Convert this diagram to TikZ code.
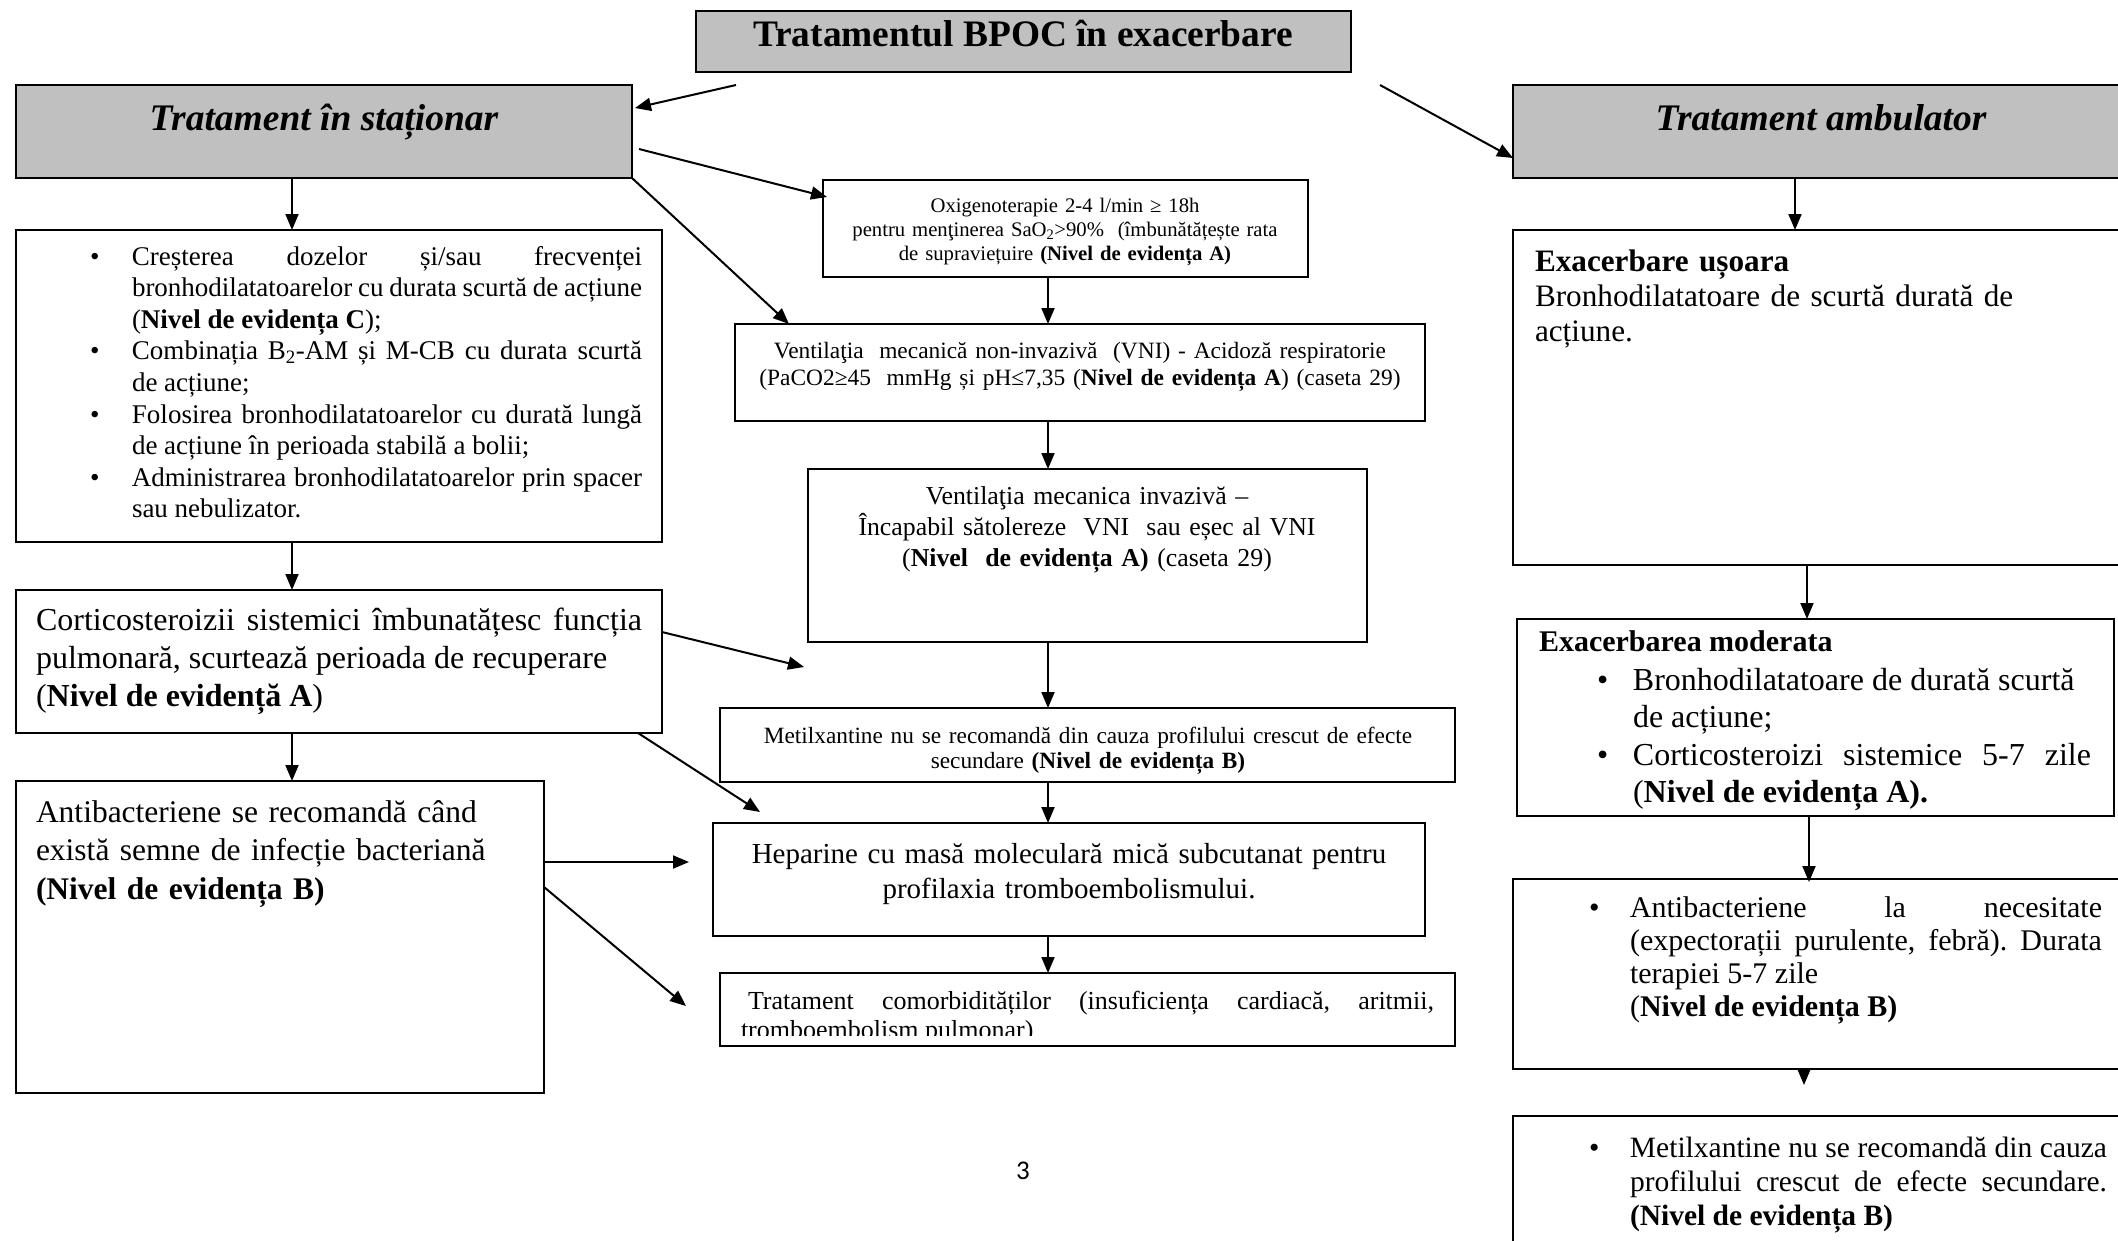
\documentclass[tikz,border=0pt]{standalone}
\usepackage{fontspec}
\setmainfont{Liberation Serif}
\newfontfamily\pagenumfont{Carlito}
\usetikzlibrary{arrows.meta,calc}
\definecolor{boxgray}{RGB}{192,192,192}
\hyphenpenalty=10000
\exhyphenpenalty=10000
% bullet hung to the left of the item text
\newcommand\bul[1][42pt]{\leavevmode\llap{\makebox[#1][l]{•}}\ignorespaces}
\newcommand\fs[2]{\fontsize{#1}{#2}\selectfont}

\begin{document}
\begin{tikzpicture}[x=1pt,y=-1pt,
  box/.style={draw=black, line width=2pt, anchor=north west, inner sep=0pt, outer sep=0pt},
  shaded/.style={box, fill=boxgray},
  txt/.style={inner sep=0pt, outer sep=0pt},
  arr/.style={line width=2pt, -{Triangle[length=16pt,width=13pt]}}]

\useasboundingbox (0,0) rectangle (2118,1240);
\fill[white] (0,0) rectangle (2118,1240);
\clip (0,0) rectangle (2118,1240);

% ---------- boxes ----------
\node[shaded, minimum width=655pt, minimum height=61pt] (title) at (696,11) {};
\node[shaded, minimum width=616pt, minimum height=93pt] (stat) at (16,85) {};
\node[shaded, minimum width=616pt, minimum height=93pt] (amb) at (1513,85) {};
\node[box, minimum width=646pt, minimum height=312pt] (care) at (16,230) {};
\node[box, minimum width=646pt, minimum height=143pt] (cort) at (16,590) {};
\node[box, minimum width=528pt, minimum height=312pt] (abac) at (16,781) {};
\node[box, minimum width=485pt, minimum height=97pt] (oxi) at (823,180) {};
\node[box, minimum width=690pt, minimum height=97pt] (vni) at (735,324) {};
\node[box, minimum width=559pt, minimum height=173pt] (vmi) at (808,469) {};
\node[box, minimum width=735pt, minimum height=74pt] (metil) at (720,708) {};
\node[box, minimum width=712pt, minimum height=113pt] (hep) at (713,823) {};
\node[box, minimum width=735pt, minimum height=73pt] (comorb) at (720,973) {};
\node[box, minimum width=616pt, minimum height=335pt] (usoara) at (1513,230) {};
\node[box, minimum width=597pt, minimum height=197pt] (moder) at (1517,619) {};
\node[box, minimum width=616pt, minimum height=190pt] (abacR) at (1513,879) {};
\node[box, minimum width=616pt, minimum height=200pt] (metilR) at (1513,1116) {};

% ---------- texts ----------
\node[txt, anchor=base, font=\fs{37.4}{40}\bfseries] (titleT) at (1023,46) {Tratamentul BPOC în exacerbare};
\node[txt, anchor=base, font=\fs{37.5}{40}\bfseries\itshape] (statT) at (324,130) {Tratament în staționar};
\node[txt, anchor=base, font=\fs{37.5}{40}\bfseries\itshape] (ambT) at (1821,130) {Tratament ambulator};

\node[txt, anchor=base west, text width=510pt, align=justify, font=\fs{27}{31.6}] (careT) at (132,265) {%
\bul Creșterea~dozelor~și/sau~frecvenței \linebreak bronhodilatatoarelor~cu~durata~scurtă~de~acțiune \linebreak (\textbf{Nivel~de~evidența~C});\par
\bul Combinația~B\textsubscript{2}-AM~și~M-CB~cu~durata~scurtă \linebreak de~acțiune;\par
\bul Folosirea~bronhodilatatoarelor~cu~durată~lungă \linebreak de~acțiune~în~perioada~stabilă~a~bolii;\par
\bul Administrarea~bronhodilatatoarelor~prin~spacer \linebreak sau~nebulizator.};

\node[txt, anchor=base west, text width=606pt, align=justify, font=\fs{32}{38}] (cortT) at (36,630) {%
Corticosteroizii~sistemici~îmbunatățesc~funcția \linebreak pulmonară,~scurtează~perioada~de~recuperare\newline (\textbf{Nivel~de~evidență~A})};

\node[txt, anchor=base west, text width=500pt, align=left, font=\fs{31.5}{38.5}] (abacT) at (36,822) {%
Antibacteriene se recomandă când\\ există semne de infecție bacteriană\\ \textbf{(Nivel de evidența B)}};

\node[txt, anchor=base, text width=480pt, align=center, font=\fs{20.7}{24.3}] (oxiT) at (1065,212) {%
Oxigenoterapie 2-4 l/min ≥ 18h\\ pentru menţinerea SaO\textsubscript{2}>90\%\ \ (îmbunătățește rata\\ de supraviețuire \textbf{(Nivel de evidența A)}};

\node[txt, anchor=base, text width=690pt, align=center, font=\fs{23.4}{27}] (vniT) at (1080,358) {%
Ventilaţia\ \ mecanică non-invazivă\ \ (VNI) - Acidoză respiratorie\\ (PaCO2≥45\ \ mmHg și pH≤7,35 (\textbf{Nivel de evidența A}) (caseta 29)};

\node[txt, anchor=base, text width=550pt, align=center, font=\fs{25.8}{31}] (vmiT) at (1087,504) {%
Ventilaţia mecanica invazivă –\\ Încapabil sătolereze\ \ VNI\ \ sau eșec al VNI\\ (\textbf{Nivel\ \ de evidența A)} (caseta 29)};

\node[txt, anchor=base, text width=730pt, align=center, font=\fs{23.3}{25.5}] (metilT) at (1088,743) {%
Metilxantine nu se recomandă din cauza profilului crescut de efecte\\ secundare \textbf{(Nivel de evidența B)}};

\node[txt, anchor=base, text width=700pt, align=center, font=\fs{29}{35}] (hepT) at (1069,863) {%
Heparine cu masă moleculară mică subcutanat pentru\\ profilaxia tromboembolismului.};

\begin{scope}
  \clip (720,973) rectangle (1455,1035);
  \node[txt, anchor=base west, text width=693pt, align=justify, font=\fs{26}{29}] (comorbT) at (741,1009) {%
  \hspace*{7pt}Tratament~comorbidităților~(insuficiența~cardiacă,~aritmii, \linebreak tromboembolism~pulmonar)};
\end{scope}

\node[txt, anchor=base west, text width=560pt, align=left, font=\fs{31.2}{35}] (usoaraT) at (1535,271) {%
\textbf{Exacerbare ușoara}\\ Bronhodilatatoare de scurtă durată de\\ acțiune.};

\node[txt, anchor=base west, font=\fs{30}{37.5}\bfseries] (moderH) at (1539,651) {Exacerbarea moderata};
\node[txt, anchor=base west, text width=458pt, align=justify, font=\fs{32}{37.5}] (moderT) at (1633,690) {%
\bul[36pt]Bronhodilatatoare~de~durată~scurtă\newline de~acțiune;\par
\bul[36pt]Corticosteroizi~sistemice~5-7~zile \linebreak (\textbf{Nivel~de~evidența~A).}};

\node[txt, anchor=base west, text width=472pt, align=justify, font=\fs{30}{33.3}] (abacRT) at (1630,917) {%
\bul[41pt]Antibacteriene~la~necesitate \linebreak (expectorații~purulente,~febră).~Durata \linebreak terapiei~5-7~zile\newline (\textbf{Nivel~de~evidența~B)}};

\node[txt, anchor=base west, text width=477pt, align=justify, font=\fs{29.5}{34}] (metilRT) at (1630,1157) {%
\bul[41pt]Metilxantine~nu~se~recomandă~din~cauza \linebreak profilului~crescut~de~efecte~secundare. \linebreak \textbf{(Nivel~de~evidența~B)}};

\node[txt, anchor=base, font=\pagenumfont\fs{27}{30}] (pnum) at (1023,1179) {3};

% ---------- connectors ----------
\coordinate (vx1) at (292,0);
\coordinate (vx2) at (1048,0);
\coordinate (vx3) at (1795,0);
\coordinate (vx4) at (1807,0);
\coordinate (vx5) at (1809,0);
\coordinate (vx6) at (1804,0);
\coordinate (startL) at (736,85);
\coordinate (startR) at (1380,85);
\coordinate (free1) at (804,667);
\coordinate (free2) at (760,812);
\coordinate (free3) at (689,862);
\coordinate (free4) at (686,1006);

\draw[arr] (startL) -- ($(stat.north east)+(3,23)$);
\draw[arr] (startR) -- ($(amb.north west)+(0,73)$);
\draw[arr] (stat.south -| vx1) -- (care.north -| vx1);
\draw[arr] ($(stat.north east)+(7,64)$) -- ($(oxi.north west)+(4,17)$);
\draw[arr] (stat.south east) -- ($(vni.north west)+(54,0)$);
\draw[arr] (oxi.south -| vx2) -- (vni.north -| vx2);
\draw[arr] (vni.south -| vx2) -- (vmi.north -| vx2);
\draw[arr] (vmi.south -| vx2) -- (metil.north -| vx2);
\draw[arr] (metil.south -| vx2) -- (hep.north -| vx2);
\draw[arr] (hep.south -| vx2) -- (comorb.north -| vx2);
\draw[arr] (care.south -| vx1) -- (cort.north -| vx1);
\draw[arr] (cort.south -| vx1) -- (abac.north -| vx1);
\draw[arr] ($(cort.north east)+(0,42)$) -- (free1);
\draw[arr] ($(cort.south east)+(-24,0)$) -- (free2);
\draw[arr] ($(abac.north east)+(0,81)$) -- (free3);
\draw[arr] ($(abac.north east)+(0,106)$) -- (free4);
\draw[arr] (amb.south -| vx3) -- (usoara.north -| vx3);
\draw[arr] (usoara.south -| vx4) -- (moder.north -| vx4);
\draw[arr] (moder.south -| vx5) -- ($(abacR.north -| vx5)+(0,3)$);
\draw[arr] (abacR.south -| vx6) -- ++(0,16);
\end{tikzpicture}
\end{document}
